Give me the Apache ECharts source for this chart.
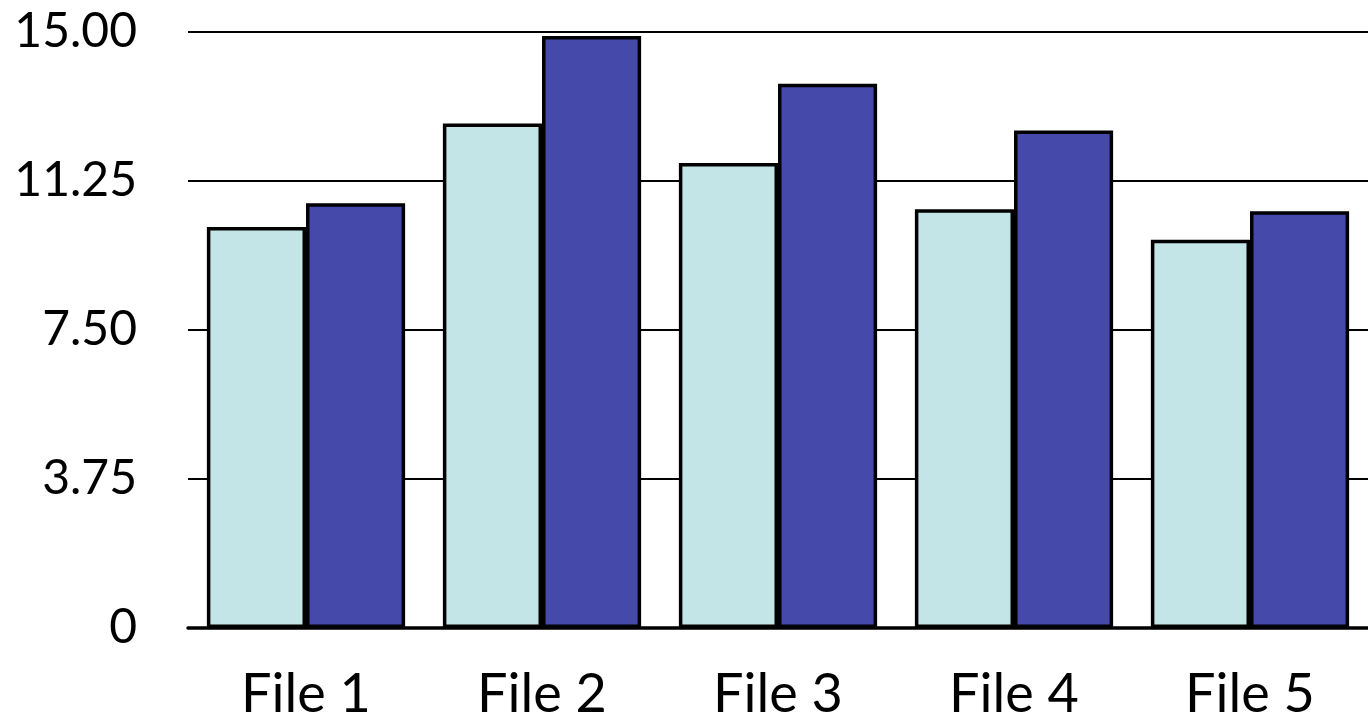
<!DOCTYPE html>
<html>
<head>
<meta charset="utf-8">
<script src="https://cdn.jsdelivr.net/npm/echarts@6/dist/echarts.min.js"></script>
<style>
  html, body { margin: 0; padding: 0; background: #fff; }
  #chart { width: 1368px; height: 722px; }
</style>
</head>
<body>
<div id="chart"></div>
<script>
// Categories and the two series per file
const categories = ['File 1', 'File 2', 'File 3', 'File 4', 'File 5'];
const seriesA = [10.09, 12.70, 11.70, 10.54, 9.77];
const seriesB = [10.69, 14.90, 13.70, 12.52, 10.49];
const yTicks = [0, 3.75, 7.5, 11.25, 15];

const chart = echarts.init(document.getElementById('chart'), null, { renderer: 'canvas' });
const fontFamily = 'Lato, "Open Sans", sans-serif';

chart.setOption({
  animation: false,
  backgroundColor: '#ffffff',
  grid: { left: 188, width: 1190, top: 32, bottom: 91, containLabel: false },
  xAxis: {
    type: 'category',
    data: categories,
    axisLine: { show: true, lineStyle: { color: '#000', width: 3.5 } },
    axisTick: { show: false },
    axisLabel: { color: '#000', fontSize: 54, fontFamily: fontFamily, margin: 40 }
  },
  yAxis: {
    type: 'value',
    min: yTicks[0],
    max: yTicks[yTicks.length - 1],
    interval: yTicks[1] - yTicks[0],
    axisLine: { show: false },
    axisTick: { show: false },
    splitLine: { show: true, lineStyle: { color: '#000', width: 2 } },
    axisLabel: {
      color: '#000', fontSize: 48, fontFamily: fontFamily, margin: 51,
      formatter: function (v) { return v === 0 ? '0' : v.toFixed(2); }
    }
  },
  series: [
    {
      type: 'bar',
      data: seriesA,
      barGap: '0%',
      barCategoryGap: '16%',
      itemStyle: { color: '#C4E5E7', borderColor: '#000', borderWidth: 3.5 }
    },
    {
      type: 'bar',
      data: seriesB,
      itemStyle: { color: '#4449AA', borderColor: '#000', borderWidth: 3.5 }
    }
  ]
});
</script>
</body>
</html>
